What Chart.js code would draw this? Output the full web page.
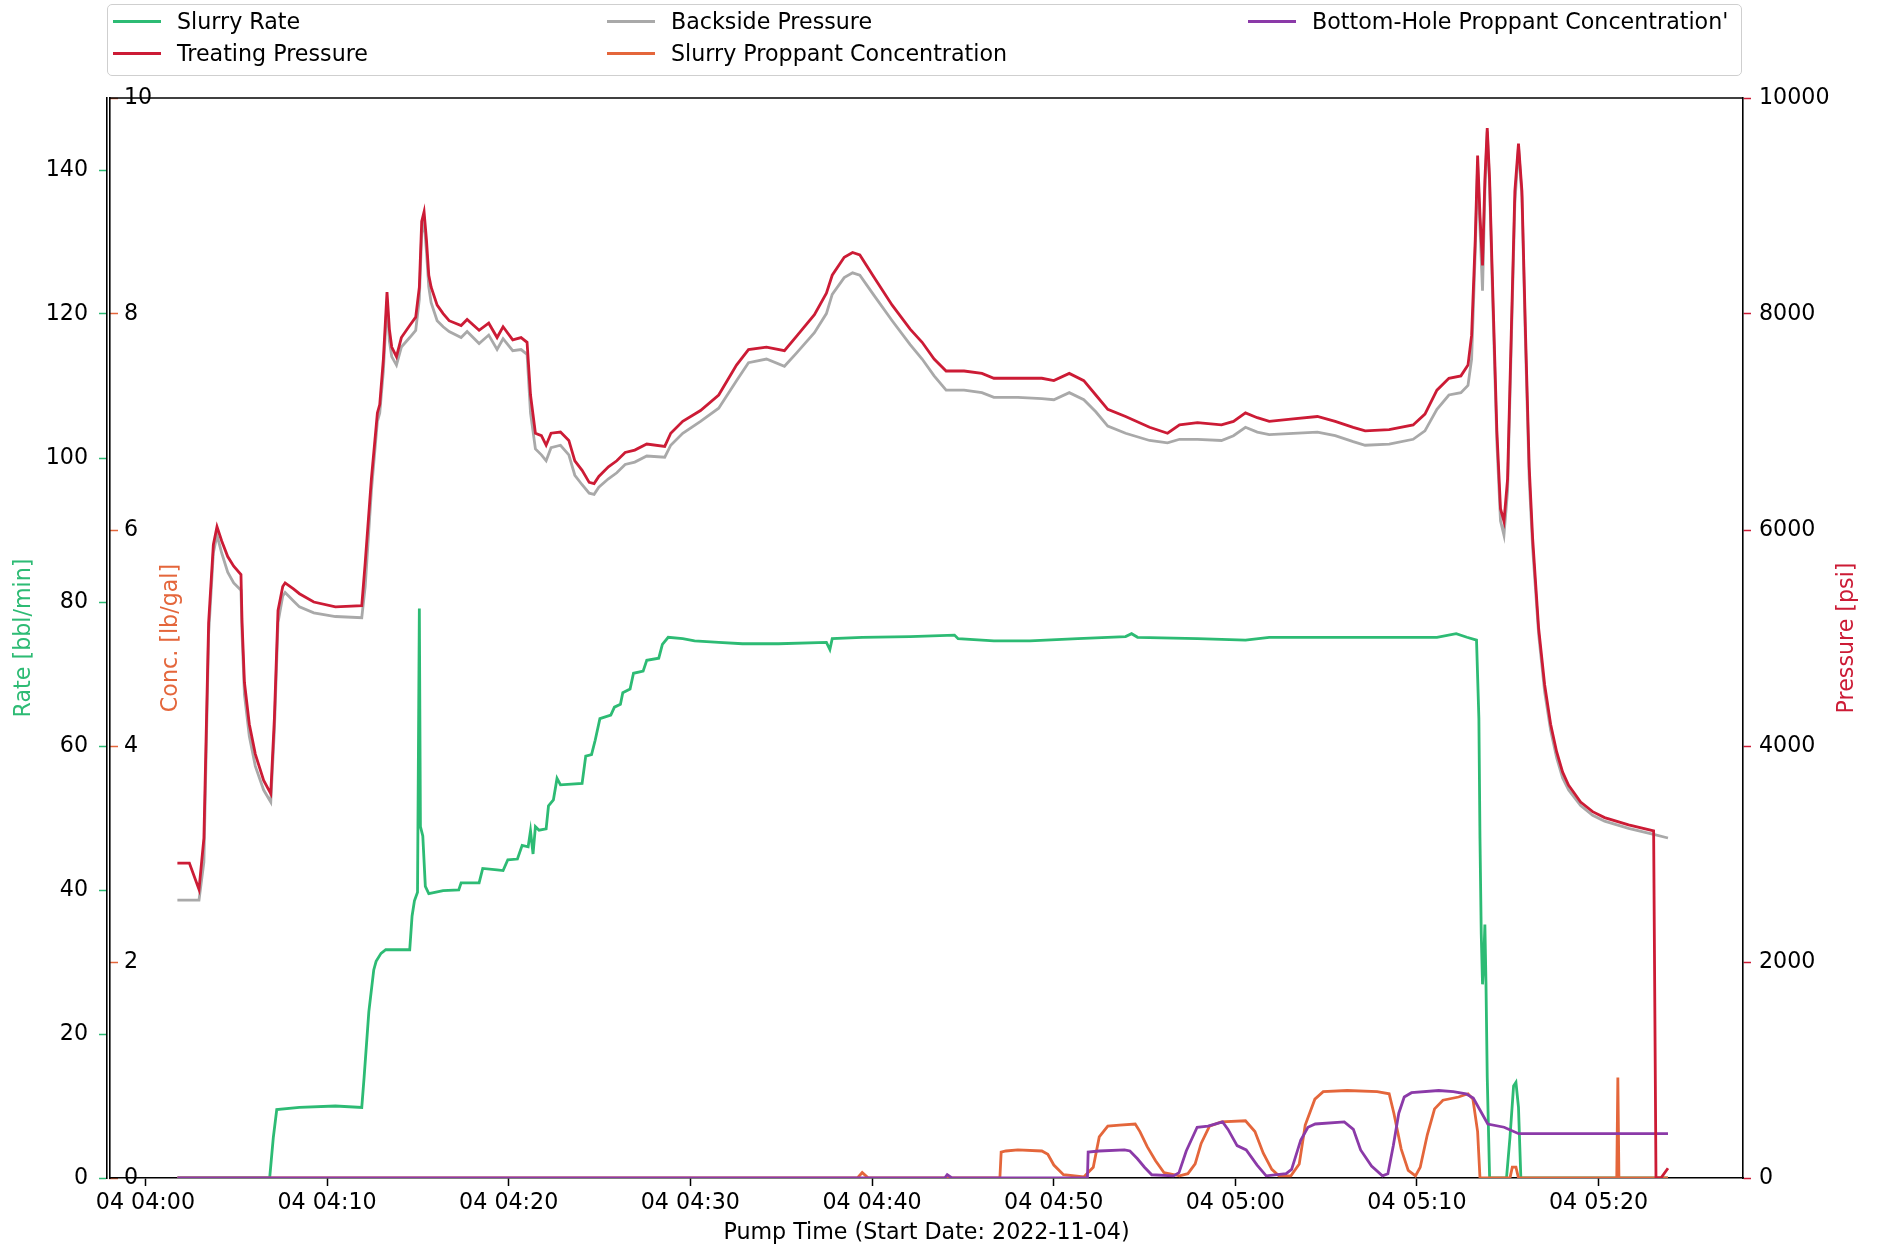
<!DOCTYPE html>
<html>
<head>
<meta charset="utf-8">
<script src="https://cdn.jsdelivr.net/npm/chart.js@4.4.1/dist/chart.umd.min.js"></script>
<style>
  body { margin: 0; background: #fff; }
  #wrap { position: relative; width: 1877px; height: 1247px; font-family: "DejaVu Sans", sans-serif; }
  #chart { position: absolute; left: 0; top: 0; }
  #legend { position: absolute; left: 107px; top: 4px; width: 1633px; height: 70px;
            border: 1px solid #cfcfcf; border-radius: 5px; background: rgba(255,255,255,0.8); }
  .item { position: absolute; height: 26px; display: flex; align-items: center;
          font-size: 22.2px; color: #000; white-space: nowrap; }
  .swatch { width: 48px; height: 3px; margin-right: 16px; }
</style>
</head>
<body>
<div id="wrap">
  <canvas id="chart" width="1877" height="1247"></canvas>
  <div id="legend"></div>
</div>
<script>
// time axis is minutes after 04:00 on 2022-11-04
const xTickMinutes = [0, 10, 20, 30, 40, 50, 60, 70, 80];
const xTickLabels = ["04 04:00", "04 04:10", "04 04:20", "04 04:30", "04 04:40",
                     "04 04:50", "04 05:00", "04 05:10", "04 05:20"];
const rateTicks = [0, 20, 40, 60, 80, 100, 120, 140];
const concTicks = [0, 2, 4, 6, 8, 10];
const pressureTicks = [0, 2000, 4000, 6000, 8000, 10000];

// Slurry Rate [bbl/min]
const rateTime = [1.76, 6.84, 7.04, 7.23, 8.48, 10.46, 11.91, 12.04, 12.30, 12.57, 12.70, 12.97, 13.23,
  14.55, 14.68, 14.81, 14.98, 15.08, 15.14, 15.27, 15.41, 15.60, 16.39, 17.25, 17.38, 18.37, 18.57,
  19.36, 19.69, 19.95, 20.48, 20.74, 21.07, 21.20, 21.34, 21.47, 21.67, 22.06, 22.19, 22.46, 22.66,
  22.85, 24.04, 24.24, 24.56, 24.76, 25.02, 25.62, 25.82, 26.15, 26.28, 26.68, 26.87, 27.40, 27.60,
  28.26, 28.46, 28.78, 29.58, 30.23, 31.56, 32.87, 34.85, 37.49, 37.68, 37.81, 39.46, 42.10, 44.54,
  44.74, 46.71, 48.69, 51.33, 53.96, 54.29, 54.62, 57.92, 60.56, 61.87, 64.52, 67.81, 71.10, 72.16,
  72.75, 73.28, 73.41, 73.47, 73.54, 73.61, 73.67, 73.74, 73.80, 73.87, 74.00, 74.93, 75.12, 75.32,
  75.45, 75.59, 75.72, 83.82];
const rateValues = [0, 0, 5.6, 9.5, 9.8, 10.0, 9.8, 14.0, 23.1, 28.9, 30.1, 31.2, 31.7,
  31.7, 36.4, 38.5, 39.7, 79.1, 48.8, 47.5, 40.5, 39.5, 39.9, 40.0, 41.0, 41.0, 43.0,
  42.8, 42.7, 44.2, 44.3, 46.2, 46.0, 48.2, 45.0, 48.8, 48.3, 48.5, 51.7, 52.5, 55.5,
  54.6, 54.8, 58.6, 58.8, 60.8, 63.8, 64.3, 65.4, 65.8, 67.4, 67.9, 70.1, 70.4, 71.9,
  72.2, 74.1, 75.1, 74.9, 74.6, 74.4, 74.2, 74.2, 74.4, 73.4, 74.9, 75.1, 75.2, 75.4,
  74.9, 74.6, 74.6, 74.9, 75.2, 75.6, 75.1, 74.9, 74.7, 75.1, 75.1, 75.1, 75.1, 75.6,
  75.1, 74.7, 63.8, 47.2, 33.9, 26.9, 29.7, 35.2, 27.2, 14.0, 0, 0, 5.6, 12.8,
  13.3, 9.8, 0, 0];

// Treating Pressure [psi]
const treatTime = [1.76, 2.42, 2.95, 3.22, 3.48, 3.74, 3.94, 4.20, 4.53, 4.86, 5.26, 5.32, 5.45, 5.72,
  6.05, 6.51, 6.90, 7.10, 7.30, 7.56, 7.69, 8.15, 8.48, 9.27, 10.46, 11.91, 12.10, 12.44, 12.77,
  12.90, 13.10, 13.30, 13.43, 13.56, 13.82, 14.09, 14.55, 14.88, 15.08, 15.21, 15.34, 15.47, 15.60,
  15.73, 16.06, 16.39, 16.72, 17.38, 17.71, 18.37, 18.90, 19.36, 19.69, 20.22, 20.68, 21.01, 21.20,
  21.47, 21.80, 22.06, 22.33, 22.85, 23.31, 23.64, 24.04, 24.43, 24.70, 24.96, 25.49, 25.95, 26.41,
  26.94, 27.60, 28.59, 28.92, 29.58, 30.56, 31.56, 32.54, 33.20, 34.19, 35.18, 35.84, 36.83, 37.49,
  37.81, 38.47, 38.93, 39.33, 40.12, 41.11, 42.10, 42.76, 43.42, 44.08, 45.07, 46.05, 46.71, 48.03,
  49.35, 50.01, 50.86, 51.66, 52.32, 52.98, 53.96, 55.28, 56.27, 56.93, 57.92, 59.24, 59.90, 60.56,
  61.21, 61.87, 63.19, 64.52, 65.50, 66.49, 67.15, 68.47, 69.79, 70.44, 71.10, 71.76, 72.42, 72.81,
  73.01, 73.21, 73.34, 73.47, 73.61, 73.74, 73.87, 74.00, 74.13, 74.40, 74.60, 74.79, 74.99, 75.19,
  75.39, 75.59, 75.78, 75.98, 76.18, 76.37, 76.70, 77.03, 77.36, 77.69, 78.02, 78.35, 79.01, 79.67,
  80.33, 81.65, 83.03, 83.16, 83.43, 83.82];
const treatValues = [2916, 2916, 2672, 3148, 5144, 5864, 6031, 5898, 5754, 5665, 5587, 5144, 4590, 4202,
  3925, 3681, 3559, 4257, 5255, 5477, 5510, 5454, 5410, 5333, 5288, 5299, 5698, 6474, 7084,
  7162, 7583, 8204, 7860, 7694, 7605, 7782, 7893, 7971, 8248, 8858, 8947, 8691, 8359,
  8248, 8082, 8004, 7938, 7893, 7949, 7849, 7915, 7782, 7882, 7760, 7782, 7738, 7250,
  6896, 6873, 6785, 6896, 6907, 6829, 6641, 6552, 6441, 6430, 6496, 6585, 6641, 6718,
  6740, 6796, 6774, 6896, 7006, 7106, 7250, 7527, 7671, 7694, 7660, 7793, 7993, 8193,
  8359, 8525, 8570, 8547, 8337, 8082, 7860, 7738, 7583, 7472, 7472, 7450, 7405, 7405,
  7405, 7383, 7450, 7383, 7250, 7117, 7051, 6951, 6896, 6973, 6995, 6973, 7006, 7084,
  7040, 7006, 7029, 7051, 7006, 6951, 6918, 6929, 6973, 7073, 7295, 7405, 7427, 7527,
  7804, 8691, 9467, 8913, 8450, 9246, 9722, 9246, 8470, 6918, 6197, 6080, 6474, 7805,
  9135, 9578, 9135, 7805, 6585, 5920, 5088, 4567, 4202, 3947, 3758, 3636, 3481, 3392,
  3337, 3270, 3215, 0, 0, 90];

// Backside Pressure [psi]
const backTime = [1.76, 2.95, 3.22, 3.48, 3.74, 3.94, 4.20, 4.53, 4.86, 5.26, 5.32, 5.45, 5.72,
  6.05, 6.51, 6.90, 7.10, 7.30, 7.56, 7.69, 8.15, 8.48, 9.27, 10.46, 11.91, 12.10, 12.44, 12.77,
  12.90, 13.10, 13.30, 13.43, 13.56, 13.82, 14.09, 14.55, 14.88, 15.08, 15.21, 15.34, 15.47, 15.60,
  15.73, 16.06, 16.39, 16.72, 17.38, 17.71, 18.37, 18.90, 19.36, 19.69, 20.22, 20.68, 21.01, 21.20,
  21.47, 21.80, 22.06, 22.33, 22.85, 23.31, 23.64, 24.04, 24.43, 24.70, 24.96, 25.49, 25.95, 26.41,
  26.94, 27.60, 28.59, 28.92, 29.58, 30.56, 31.56, 32.54, 33.20, 34.19, 35.18, 35.84, 36.83, 37.49,
  37.81, 38.47, 38.93, 39.33, 40.12, 41.11, 42.10, 42.76, 43.42, 44.08, 45.07, 46.05, 46.71, 48.03,
  49.35, 50.01, 50.86, 51.66, 52.32, 52.98, 53.96, 55.28, 56.27, 56.93, 57.92, 59.24, 59.90, 60.56,
  61.21, 61.87, 63.19, 64.52, 65.50, 66.49, 67.15, 68.47, 69.79, 70.44, 71.10, 71.76, 72.42, 72.81,
  73.01, 73.21, 73.34, 73.47, 73.61, 73.74, 73.87, 74.00, 74.13, 74.40, 74.60, 74.79, 74.99, 75.19,
  75.39, 75.59, 75.78, 75.98, 76.18, 76.37, 76.70, 77.03, 77.36, 77.69, 78.02, 78.35, 79.01, 79.67,
  80.33, 81.65, 83.03, 83.82];
const backValues = [2572, 2572, 2927, 5033, 5787, 5953, 5787, 5610, 5510, 5443, 5033, 4479, 4091,
  3814, 3592, 3481, 4146, 5144, 5388, 5421, 5343, 5288, 5233, 5199, 5188, 5477, 6363, 7006,
  7084, 7472, 8115, 7749, 7605, 7527, 7694, 7782, 7849, 8137, 8747, 8858, 8581, 8248,
  8104, 7938, 7882, 7838, 7782, 7838, 7727, 7805, 7672, 7771, 7660, 7671, 7627, 7084,
  6751, 6696, 6641, 6762, 6785, 6696, 6507, 6419, 6341, 6330, 6397, 6474, 6530, 6607,
  6629, 6685, 6674, 6785, 6895, 7006, 7128, 7383, 7549, 7583, 7516, 7638, 7827, 8004,
  8182, 8337, 8381, 8359, 8170, 7938, 7716, 7583, 7427, 7295, 7295, 7272, 7228, 7228,
  7217, 7206, 7272, 7206, 7095, 6962, 6896, 6829, 6807, 6840, 6840, 6829, 6873, 6951,
  6907, 6884, 6895, 6907, 6873, 6818, 6785, 6796, 6840, 6918, 7117, 7250, 7272, 7339,
  7583, 8581, 9379, 8802, 8215, 9135, 9689, 9190, 8359, 6807, 6086, 5953, 6363, 7694,
  9024, 9545, 9079, 7694, 6474, 5831, 5033, 4501, 4146, 3891, 3703, 3592, 3448, 3359,
  3304, 3237, 3182, 3148];

// Slurry Proppant Concentration [lb/gal]
const slurryConcTime = [1.76, 39.20, 39.46, 39.80, 47.04, 47.11, 47.37, 48.03, 49.35, 49.68, 50.01,
  50.54, 51.66, 52.18, 52.51, 52.98, 53.63, 54.49, 54.75, 55.15, 55.61, 56.07, 56.93, 57.39, 57.79,
  58.12, 58.58, 59.24, 60.56, 61.08, 61.54, 62.01, 62.40, 63.06, 63.52, 63.85, 64.38, 64.84, 66.16,
  67.81, 68.47, 68.73, 69.13, 69.52, 69.92, 70.18, 70.57, 70.97, 71.43, 72.29, 72.81, 73.08, 73.34,
  73.47, 75.12, 75.25, 75.45, 75.59, 81.00, 81.06, 81.12, 83.82];
const slurryConcValues = [0, 0, 0.05, 0, 0, 0.24, 0.25, 0.26, 0.25, 0.22, 0.12,
  0.03, 0.01, 0.10, 0.38, 0.48, 0.49, 0.50, 0.43, 0.29, 0.16, 0.05, 0.02, 0.04, 0.13,
  0.32, 0.48, 0.52, 0.53, 0.43, 0.23, 0.08, 0.02, 0.02, 0.13, 0.49, 0.73, 0.80, 0.81,
  0.80, 0.78, 0.60, 0.27, 0.07, 0.02, 0.10, 0.40, 0.64, 0.72, 0.75, 0.78, 0.73, 0.43,
  0, 0, 0.10, 0.10, 0, 0, 0.93, 0, 0];

// Bottom-Hole Proppant Concentration [lb/gal]
const bhConcTime = [1.76, 44.00, 44.14, 44.40, 51.86, 51.90, 52.50, 53.90, 54.20, 54.60, 55.00,
  55.40, 56.60, 56.90, 57.30, 57.90, 58.50, 59.30, 59.60, 60.10, 60.60, 61.20, 61.70, 62.80, 63.10,
  63.60, 64.00, 64.40, 66.00, 66.50, 66.90, 67.50, 68.10, 68.40, 68.70, 69.00, 69.30, 69.70, 71.20,
  72.00, 72.70, 73.10, 73.50, 73.90, 74.80, 75.60, 83.82];
const bhConcValues = [0, 0, 0.03, 0, 0, 0.24, 0.25, 0.26, 0.25, 0.18, 0.10,
  0.03, 0.02, 0.05, 0.25, 0.47, 0.48, 0.52, 0.45, 0.30, 0.26, 0.12, 0.02, 0.04, 0.08,
  0.35, 0.47, 0.50, 0.52, 0.45, 0.26, 0.11, 0.02, 0.04, 0.30, 0.60, 0.75, 0.79, 0.81,
  0.80, 0.78, 0.74, 0.62, 0.50, 0.47, 0.41, 0.41];

const xTitle = "Pump Time (Start Date: 2022-11-04)";
const FONT = "DejaVu Sans";
const FONT_SIZE = 22.2;
const GREEN = "#2dbb74";
const RED = "#cc1b35";
const GRAY = "#a9a9a9";
const ORANGE = "#e4663b";
const PURPLE = "#8b3aa8";

function pairs(times, values) {
    return times.map((t, i) => ({ x: t, y: values[i] }));
}

function tickList(values) {
    return (scale) => { scale.ticks = values.map((v) => ({ value: v })); };
}

function verticalText(ctx, text, x, y, color) {
    ctx.save();
    ctx.translate(x, y);
    ctx.rotate(-Math.PI / 2);
    ctx.fillStyle = color;
    ctx.fillText(text, 0, 0);
    ctx.restore();
}

// axis titles + top spine, matplotlib style
const axisDecor = {
    id: "axisDecor",
    afterDraw(chart) {
        const ctx = chart.ctx;
        const a = chart.chartArea;
        ctx.save();
        ctx.strokeStyle = "#000";
        ctx.lineWidth = 1.6;
        ctx.beginPath();
        ctx.moveTo(a.left, a.top);
        ctx.lineTo(a.right, a.top);
        ctx.stroke();

        ctx.font = FONT_SIZE + "px '" + FONT + "'";
        ctx.textAlign = "center";
        ctx.textBaseline = "middle";
        ctx.fillStyle = "#000";
        ctx.fillText(xTitle, (a.left + a.right) / 2, a.bottom + 55);

        const midY = (a.top + a.bottom) / 2;
        verticalText(ctx, "Rate [bbl/min]", a.left - 86, midY, GREEN);
        verticalText(ctx, "Conc. [lb/gal]", a.left + 61, midY, ORANGE);
        verticalText(ctx, "Pressure [psi]", a.right + 104, midY, RED);
        ctx.restore();
    }
};

const tickFont = { family: FONT, size: FONT_SIZE };

const chart = new Chart(document.getElementById("chart"), {
    type: "line",
    data: {
        datasets: [
            { label: "Slurry Rate", data: pairs(rateTime, rateValues), yAxisID: "rate", borderColor: GREEN, order: 5 },
            { label: "Treating Pressure", data: pairs(treatTime, treatValues), yAxisID: "pressure", borderColor: RED, order: 1 },
            { label: "Backside Pressure", data: pairs(backTime, backValues), yAxisID: "pressure", borderColor: GRAY, order: 2 },
            { label: "Slurry Proppant Concentration", data: pairs(slurryConcTime, slurryConcValues), yAxisID: "conc", borderColor: ORANGE, order: 4 },
            { label: "Bottom-Hole Proppant Concentration'", data: pairs(bhConcTime, bhConcValues), yAxisID: "conc", borderColor: PURPLE, order: 3 }
        ]
    },
    options: {
        responsive: false,
        animation: false,
        devicePixelRatio: 1,
        layout: { padding: { top: 98, left: 0, right: 0, bottom: 0 } },
        elements: {
            point: { radius: 0 },
            line: { borderWidth: 2.8, tension: 0, fill: false }
        },
        plugins: { legend: { display: false }, tooltip: { enabled: false } },
        scales: {
            x: {
                type: "linear",
                position: "bottom",
                min: -1.95,
                max: 87.95,
                afterBuildTicks: tickList(xTickMinutes),
                afterFit: (s) => { s.height = 69; },
                ticks: {
                    callback: (v, i) => xTickLabels[i],
                    font: tickFont, color: "#000", padding: 4, maxRotation: 0, autoSkip: false
                },
                grid: { drawOnChartArea: false, tickLength: 8, color: "#000", tickWidth: 1.5 },
                border: { color: "#000", width: 1.6 }
            },
            rate: {
                type: "linear",
                position: "left",
                weight: 1,
                min: 0,
                max: 150,
                afterBuildTicks: tickList(rateTicks),
                afterFit: (s) => { s.width = 107; },
                ticks: { callback: (v) => String(v), font: tickFont, color: "#000", padding: 11 },
                grid: { drawOnChartArea: false, tickLength: 8, color: GREEN, tickWidth: 1.5 },
                border: { color: "#000", width: 1.6 }
            },
            conc: {
                type: "linear",
                position: "left",
                weight: 0,
                min: 0,
                max: 10,
                afterBuildTicks: tickList(concTicks),
                afterFit: (s) => { s.width = 3; },
                ticks: { callback: (v) => String(v), font: tickFont, color: "#000", mirror: true, padding: 14 },
                grid: { drawOnChartArea: false, tickLength: -8, color: ORANGE, tickWidth: 1.5 },
                border: { color: "#000", width: 1.6 }
            },
            pressure: {
                type: "linear",
                position: "right",
                min: 0,
                max: 10000,
                afterBuildTicks: tickList(pressureTicks),
                afterFit: (s) => { s.width = 134; },
                ticks: { callback: (v) => String(v), font: tickFont, color: "#000", padding: 8 },
                grid: { drawOnChartArea: false, tickLength: 8, color: RED, tickWidth: 1.5 },
                border: { color: "#000", width: 1.6 }
            }
        }
    },
    plugins: [axisDecor]
});

// legend: 3 columns, filled column by column like the original
const legendColumnX = [5, 499, 1140];
const legendRowTop = [3, 35];

function buildLegend() {
    const box = document.getElementById("legend");
    chart.data.datasets.forEach((ds, i) => {
        const col = Math.floor(i / 2);
        const row = i % 2;
        const item = document.createElement("div");
        item.className = "item";
        item.style.left = legendColumnX[col] + "px";
        item.style.top = legendRowTop[row] + "px";
        item.innerHTML = `<span class="swatch" style="background:${ds.borderColor}"></span><span>${ds.label}</span>`;
        box.appendChild(item);
    });
}

buildLegend();
</script>
</body>
</html>
